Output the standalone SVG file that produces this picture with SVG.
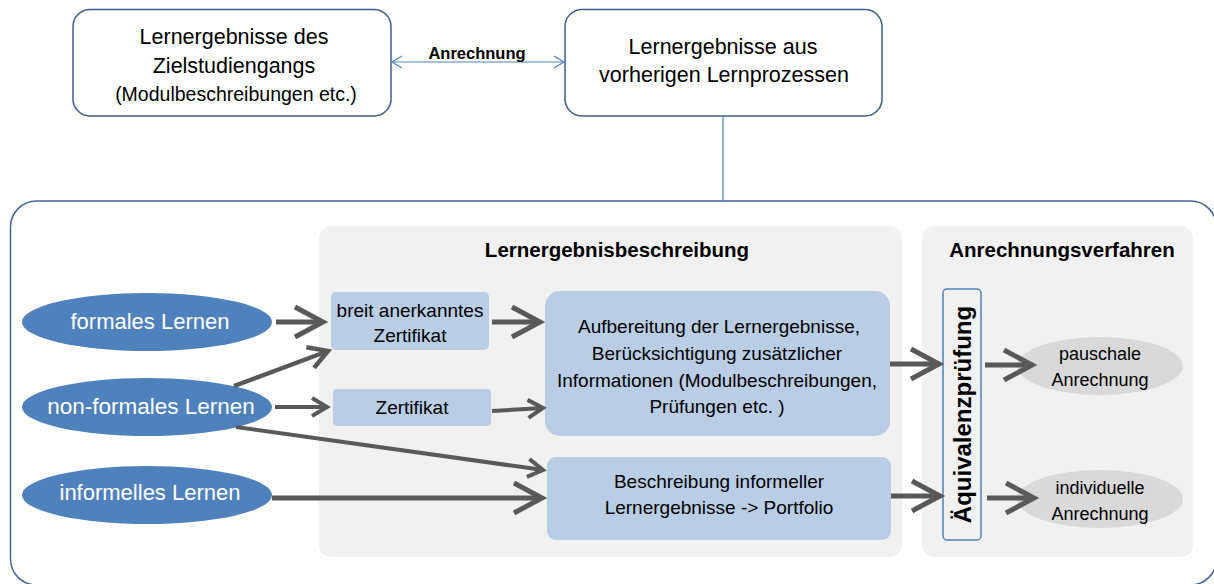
<svg xmlns="http://www.w3.org/2000/svg" width="1214" height="584" viewBox="0 0 1214 584">
  <style>
    text { font-family: "Liberation Sans", Arial, sans-serif; fill: #000; text-anchor: middle; }
    .top { fill: #fff; stroke: #3b5f8e; stroke-width: 1.5; }
    .outer { fill: #fff; stroke: #41679a; stroke-width: 1.5; }
    .panel { fill: #f1f1f1; }
    .lb { fill: #b9cde5; }
    .blue { fill: #4f81bd; }
    .grey { fill: #d9d9d9; }
    .t21 { font-size: 21.5px; }
    .t18 { font-size: 18px; }
    .t195 { font-size: 19.5px; }
    .t19 { font-size: 19px; }
    .t22 { font-size: 22px; fill: #fff; }
    .bold { font-weight: bold; }
    .arr { fill: none; stroke: #595959; }
    .big { stroke-width: 5; marker-end: url(#chevBig); }
    .med { stroke-width: 4.5; marker-end: url(#chevMed); }
    .sm { stroke-width: 4; marker-end: url(#chevSm); }
    .thin { fill: none; stroke: #4f81bd; stroke-width: 1.2; }
  </style>
  <defs>
    <marker id="chevBig" markerUnits="userSpaceOnUse" viewBox="-36 -22 44 44" markerWidth="44" markerHeight="44" refX="0" refY="0" orient="auto">
      <path d="M-28,-15 L0,0 L-28,15" fill="none" stroke="#595959" stroke-width="5"/>
    </marker>
    <marker id="chevMed" markerUnits="userSpaceOnUse" viewBox="-30 -18 38 36" markerWidth="38" markerHeight="36" refX="0" refY="0" orient="auto">
      <path d="M-19,-11 L0,0 L-19,11" fill="none" stroke="#595959" stroke-width="4.5"/>
    </marker>
    <marker id="chevSm" markerUnits="userSpaceOnUse" viewBox="-26 -16 34 32" markerWidth="34" markerHeight="32" refX="0" refY="0" orient="auto">
      <path d="M-15,-9 L0,0 L-15,9" fill="none" stroke="#595959" stroke-width="4"/>
    </marker>
    <marker id="openArrow" markerUnits="userSpaceOnUse" viewBox="-14 -8 16 16" markerWidth="16" markerHeight="16" refX="0" refY="0" orient="auto-start-reverse">
      <path d="M-10,-6 L0,0 L-10,6" fill="none" stroke="#4f81bd" stroke-width="1.2"/>
    </marker>
  </defs>

  <!-- outer container -->
  <g id="container">
    <rect class="outer" x="10.5" y="201" width="1206" height="384" rx="26"/>
  </g>

  <g id="panel-beschreibung">
    <rect class="panel" x="319" y="226" width="583" height="331" rx="12"/>
    <text class="bold" style="font-size:20.5px" x="617" y="257">Lernergebnisbeschreibung</text>
  </g>
  <g id="panel-verfahren">
    <rect class="panel" x="922" y="226" width="271" height="331" rx="12"/>
    <text class="bold" style="font-size:20.5px" x="1062" y="257">Anrechnungsverfahren</text>
  </g>

  <!-- top nodes -->
  <g id="ziel">
    <rect class="top" x="73" y="9.5" width="318" height="106.5" rx="17"/>
    <text class="t21" x="234" y="44">Lernergebnisse des</text>
    <text class="t21" x="234" y="73">Zielstudiengangs</text>
    <text class="t195" x="236" y="101">(Modulbeschreibungen etc.)</text>
  </g>
  <g id="vorherige">
    <rect class="top" x="565" y="9.5" width="317" height="106.5" rx="17"/>
    <text class="t21" x="723" y="54">Lernergebnisse aus</text>
    <text class="t21" x="724" y="82">vorherigen Lernprozessen</text>
  </g>

  <!-- learning types -->
  <g id="formal">
    <ellipse class="blue" cx="147" cy="322" rx="125" ry="29"/>
    <text class="t22" x="150" y="329">formales Lernen</text>
  </g>
  <g id="nonformal">
    <ellipse class="blue" cx="147" cy="407" rx="125" ry="29"/>
    <text class="t22" style="font-size:22.5px" x="151" y="414">non-formales Lernen</text>
  </g>
  <g id="informal">
    <ellipse class="blue" cx="147" cy="495" rx="125" ry="29"/>
    <text class="t22" x="150" y="500">informelles Lernen</text>
  </g>

  <!-- description boxes -->
  <g id="breit">
    <rect class="lb" x="331" y="292" width="158" height="58" rx="5"/>
    <text class="t19" x="410" y="317">breit anerkanntes</text>
    <text class="t19" x="410" y="342">Zertifikat</text>
  </g>
  <g id="zertifikat">
    <rect class="lb" x="333" y="389" width="158" height="37" rx="4"/>
    <text class="t19" x="412" y="414">Zertifikat</text>
  </g>
  <g id="aufbereitung">
    <rect class="lb" x="545" y="291" width="345" height="145" rx="15"/>
    <text class="t19" x="719" y="333">Aufbereitung der Lernergebnisse,</text>
    <text class="t19" x="717" y="360">Berücksichtigung zusätzlicher</text>
    <text class="t19" x="717" y="387">Informationen (Modulbeschreibungen,</text>
    <text class="t19" x="717" y="413">Prüfungen etc. )</text>
  </g>
  <g id="beschreibung">
    <rect class="lb" x="547" y="457" width="344" height="83" rx="9"/>
    <text class="t19" x="719" y="488">Beschreibung informeller</text>
    <text class="t19" x="719" y="514">Lernergebnisse -&gt; Portfolio</text>
  </g>

  <!-- procedure -->
  <g id="aequivalenz">
    <rect x="943" y="289" width="38" height="251" rx="4" fill="none" stroke="#4f81bd" stroke-width="1.5"/>
    <text class="bold" style="font-size:24px" transform="translate(970.5,414.5) rotate(-90)" x="0" y="0">Äquivalenzprüfung</text>
  </g>
  <g id="pauschal">
    <ellipse class="grey" cx="1100" cy="366" rx="83" ry="29"/>
    <text class="t18" x="1100" y="360">pauschale</text>
    <text class="t18" x="1100" y="386">Anrechnung</text>
  </g>
  <g id="individuell">
    <ellipse class="grey" cx="1100" cy="499" rx="83" ry="29"/>
    <text class="t18" x="1100" y="494">individuelle</text>
    <text class="t18" x="1100" y="520">Anrechnung</text>
  </g>

  <!-- connectors -->
  <g id="connectors">
    <path class="thin" d="M392,62 L564,62" marker-start="url(#openArrow)" marker-end="url(#openArrow)"/>
    <text class="bold" style="font-size:16.5px" x="477" y="59">Anrechnung</text>
    <path class="thin" d="M723,116 L723,201"/>

    <path class="arr big" d="M276,322 L323,322"/>
    <path class="arr big" d="M492,322 L540,322"/>
    <path class="arr big" d="M890,364 L939,364"/>
    <path class="arr big" d="M891,496 L940,496"/>
    <path class="arr big" d="M985,365 L1032,365"/>
    <path class="arr big" d="M987,498 L1034,498"/>
    <path class="arr big" d="M272,498 L542,498"/>
    <path class="arr med" d="M234,386 L328,351"/>
    <path class="arr sm" d="M275,407 L327,407"/>
    <path class="arr sm" d="M492,411 L543,408"/>
    <path class="arr sm" d="M236,427 L543,470"/>
  </g>
</svg>
